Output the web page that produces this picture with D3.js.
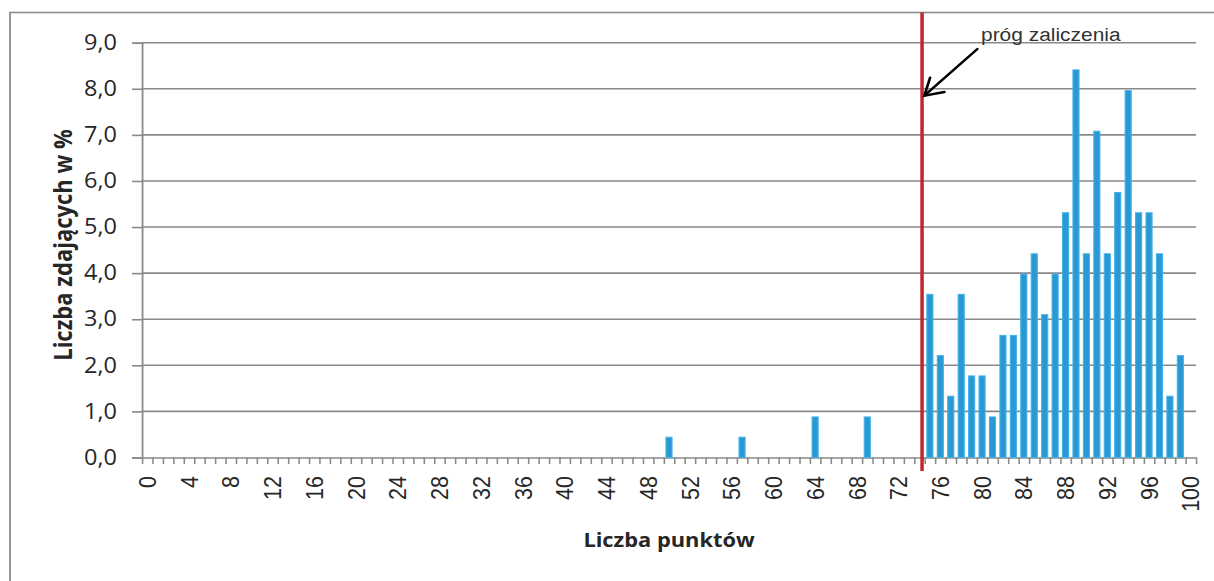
<!DOCTYPE html>
<html><head><meta charset="utf-8">
<script src="https://cdn.jsdelivr.net/npm/d3@7"></script>
<style>html,body{margin:0;padding:0;background:#fff;overflow:hidden}</style>
</head><body><svg id="c"></svg>
<script>
// ---- data ----
const scores = d3.range(0, 101);
const percents = [
  0,0,0,0,0,0,0,0,0,0,
  0,0,0,0,0,0,0,0,0,0,
  0,0,0,0,0,0,0,0,0,0,
  0,0,0,0,0,0,0,0,0,0,
  0,0,0,0,0,0,0,0,0,0,
  0.44,0,0,0,0,0,0,0.44,0,0,
  0,0,0,0,0.88,0,0,0,0,0.88,
  0,0,0,0,0,3.54,2.21,1.33,3.54,1.77,
  1.77,0.88,2.65,2.65,3.98,4.42,3.10,3.98,5.31,8.41,
  4.42,7.08,4.42,5.75,7.96,5.31,5.31,4.42,1.33,2.21,
  0
];
const xTickLabels = [0,4,8,12,16,20,24,28,32,36,40,44,48,52,56,60,64,68,72,76,80,84,88,92,96,100];
const yTicks = [0,1,2,3,4,5,6,7,8,9];
const threshold = 74.75;          // position of "próg zaliczenia" line on score axis
const arrowTipValue = 7.85;
const annotationText = "próg zaliczenia";
const xTitle = "Liczba punktów";
const yTitle = "Liczba zdających w %";

// ---- layout ----
const W = 1214, H = 581, SX = 1.12;   // original image is stretched horizontally
const X = px => px / SX;
const svg = d3.select("#c").attr("width", W).attr("height", H)
  .attr("viewBox", `0 0 ${W / SX} ${H}`).attr("preserveAspectRatio", "none");

const pL = X(142), pR = X(1196), pT = 42.7, pB = 457.5;
const gridColor = "#898989", textColor = "#262626";

const xLin = d3.scaleLinear().domain([0, 101]).range([pL, pR]);
const xb = d3.scaleBand().domain(scores).range([pL, pR]).padding(0);
const y = d3.scaleLinear().domain([0, 9]).range([pB, pT]);

// frame
svg.append("rect").attr("x", X(10)).attr("y", 12.5).attr("width", W / SX).attr("height", H)
  .attr("fill", "none").attr("stroke", "#8c8c8c").attr("stroke-width", 1.6);

// gridlines
svg.append("g").selectAll("line").data(yTicks.filter(d => d > 0)).join("line")
  .attr("x1", pL).attr("x2", pR).attr("y1", d => y(d)).attr("y2", d => y(d))
  .attr("stroke", gridColor).attr("stroke-width", 1.6);

// y axis
const yAxis = svg.append("g").attr("transform", `translate(${pL},0)`)
  .call(d3.axisLeft(y).tickValues(yTicks).tickSize(X(10))
    .tickFormat(d => d3.format(".1f")(d).replace(".", ",")));
yAxis.select(".domain").attr("stroke", gridColor).attr("stroke-width", 1.6);
yAxis.selectAll(".tick line").attr("stroke", gridColor).attr("stroke-width", 1.6);
yAxis.selectAll("text").attr("x", X(117) - pL).attr("fill", textColor)
  .attr("font-family", "'Open Sans', sans-serif").attr("font-size", 21);

// x axis ticks at category boundaries
const xAxisTicks = svg.append("g").attr("transform", `translate(0,${pB})`)
  .call(d3.axisBottom(xLin).tickValues(d3.range(0, 102)).tickSize(6.5).tickSizeOuter(0).tickFormat(""));
xAxisTicks.select(".domain").attr("stroke", gridColor).attr("stroke-width", 1.6);
xAxisTicks.selectAll(".tick line").attr("stroke", gridColor).attr("stroke-width", 1.4);

// x labels
const xLab = svg.append("g").attr("transform", `translate(0,${pB})`)
  .call(d3.axisBottom(xb).tickValues(xTickLabels).tickSize(0));
xLab.select(".domain").remove();
xLab.selectAll("text").attr("transform", "rotate(-90)").attr("text-anchor", "end")
  .attr("x", -18.5).attr("y", 0).attr("dy", "0.36em").attr("fill", textColor)
  .attr("font-family", "'Liberation Sans', Arial, sans-serif").attr("font-size", 21.5);

// bars
const bw = xb.bandwidth(), barW = bw * 0.58;
svg.append("g").selectAll("rect").data(scores.map((s, i) => ({s, v: percents[i]})).filter(d => d.v > 0))
  .join("rect")
  .attr("x", d => xb(d.s) + (bw - barW) / 2).attr("width", barW)
  .attr("y", d => y(d.v)).attr("height", d => pB - y(d.v))
  .attr("fill", "#2a98d3").attr("stroke", "#40b3e8").attr("stroke-width", 1);

// threshold line
const tx = xLin(threshold);
svg.append("line").attr("x1", tx).attr("x2", tx).attr("y1", 12.5).attr("y2", 471)
  .attr("stroke", "#c1272d").attr("stroke-width", X(3.5));

// annotation arrow
const tipX = tx + X(2.3), tipY = y(arrowTipValue);
svg.append("line").attr("x1", tipX + X(53)).attr("y1", tipY - 46.7).attr("x2", tipX).attr("y2", tipY)
  .attr("stroke", "#000").attr("stroke-width", 2.4).attr("stroke-linecap", "round");
svg.append("polyline")
  .attr("points", [[tipX + X(5.7), tipY - 18], [tipX, tipY], [tipX + X(20), tipY - 3.7]].map(p => p.join(",")).join(" "))
  .attr("fill", "none").attr("stroke", "#000").attr("stroke-width", 2.4)
  .attr("stroke-linecap", "round").attr("stroke-linejoin", "miter");
svg.append("text").attr("x", X(981)).attr("y", 40.7).text(annotationText)
  .attr("fill", "#333").attr("font-family", "'Liberation Sans', Arial, sans-serif").attr("font-size", 18.7);

// axis titles
svg.append("text").attr("x", X(669)).attr("y", 547).attr("text-anchor", "middle").text(xTitle)
  .attr("fill", textColor).attr("font-weight", "bold")
  .attr("font-family", "'Open Sans', sans-serif").attr("font-size", 19.5);
svg.append("text").attr("transform", `translate(${X(72)},245) rotate(-90)`).attr("text-anchor", "middle")
  .text(yTitle).attr("fill", textColor).attr("font-weight", "bold")
  .attr("font-family", "'Open Sans', sans-serif").attr("font-size", 22);
</script>
</body></html>
